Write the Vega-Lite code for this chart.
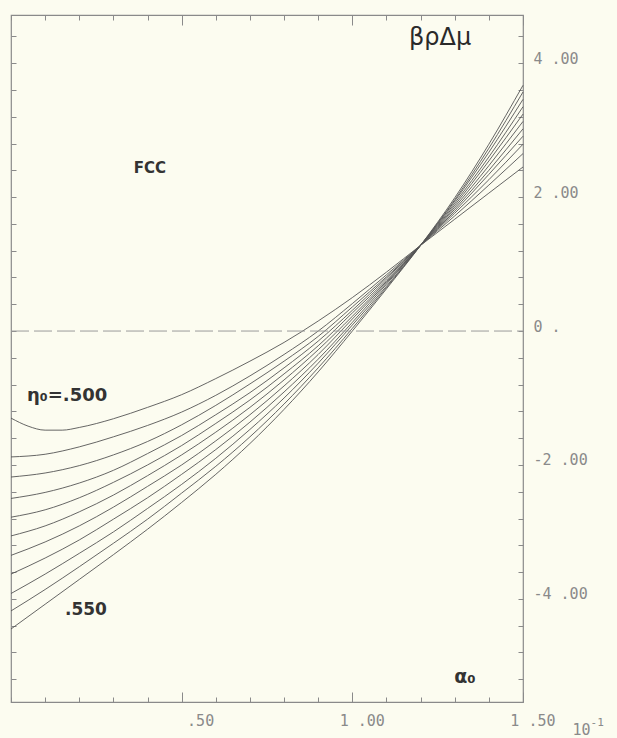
{
  "$schema": "https://vega.github.io/schema/vega-lite/v6.json",
  "width": 512,
  "height": 687,
  "autosize": {"type": "none"},
  "padding": {"left": 11, "top": 15, "right": 94, "bottom": 36},
  "background": "#fcfcf0",
  "config": {
    "view": {"stroke": "#8a8a8a", "strokeWidth": 1.2},
    "axis": {"domain": false, "grid": false, "tickColor": "#8a8a8a", "tickWidth": 1, "labelFont": "DejaVu Sans Mono", "labelFontSize": 15, "labelColor": "#8a8a8a", "labelOverlap": false, "labelFlush": false, "labelBound": false}
  },
  "datasets": {
    "curves": [
      {"eta": ".500", "a": 0, "v": -1.30}, {"eta": ".500", "a": 0.05, "v": -1.42}, {"eta": ".500", "a": 0.1, "v": -1.48}, {"eta": ".500", "a": 0.15, "v": -1.48}, {"eta": ".500", "a": 0.2, "v": -1.44}, {"eta": ".500", "a": 0.3, "v": -1.31}, {"eta": ".500", "a": 0.4, "v": -1.14}, {"eta": ".500", "a": 0.5, "v": -0.95}, {"eta": ".500", "a": 0.6, "v": -0.71}, {"eta": ".500", "a": 0.7, "v": -0.45}, {"eta": ".500", "a": 0.8, "v": -0.17}, {"eta": ".500", "a": 0.9, "v": 0.15}, {"eta": ".500", "a": 1.0, "v": 0.50}, {"eta": ".500", "a": 1.1, "v": 0.88}, {"eta": ".500", "a": 1.2, "v": 1.28}, {"eta": ".500", "a": 1.3, "v": 1.67}, {"eta": ".500", "a": 1.4, "v": 2.06}, {"eta": ".500", "a": 1.5, "v": 2.45},
      {"eta": ".505", "a": 0, "v": -1.88}, {"eta": ".505", "a": 0.1, "v": -1.84}, {"eta": ".505", "a": 0.2, "v": -1.73}, {"eta": ".505", "a": 0.3, "v": -1.58}, {"eta": ".505", "a": 0.4, "v": -1.41}, {"eta": ".505", "a": 0.5, "v": -1.21}, {"eta": ".505", "a": 0.6, "v": -0.96}, {"eta": ".505", "a": 0.7, "v": -0.67}, {"eta": ".505", "a": 0.8, "v": -0.35}, {"eta": ".505", "a": 0.9, "v": 0.00}, {"eta": ".505", "a": 1.0, "v": 0.41}, {"eta": ".505", "a": 1.1, "v": 0.84}, {"eta": ".505", "a": 1.2, "v": 1.28}, {"eta": ".505", "a": 1.3, "v": 1.72}, {"eta": ".505", "a": 1.4, "v": 2.18}, {"eta": ".505", "a": 1.5, "v": 2.65},
      {"eta": ".510", "a": 0, "v": -2.18}, {"eta": ".510", "a": 0.1, "v": -2.12}, {"eta": ".510", "a": 0.2, "v": -2.01}, {"eta": ".510", "a": 0.3, "v": -1.85}, {"eta": ".510", "a": 0.4, "v": -1.65}, {"eta": ".510", "a": 0.5, "v": -1.40}, {"eta": ".510", "a": 0.6, "v": -1.11}, {"eta": ".510", "a": 0.7, "v": -0.79}, {"eta": ".510", "a": 0.8, "v": -0.45}, {"eta": ".510", "a": 0.9, "v": -0.08}, {"eta": ".510", "a": 1.0, "v": 0.36}, {"eta": ".510", "a": 1.1, "v": 0.81}, {"eta": ".510", "a": 1.2, "v": 1.28}, {"eta": ".510", "a": 1.3, "v": 1.76}, {"eta": ".510", "a": 1.4, "v": 2.26}, {"eta": ".510", "a": 1.5, "v": 2.79},
      {"eta": ".515", "a": 0, "v": -2.50}, {"eta": ".515", "a": 0.1, "v": -2.41}, {"eta": ".515", "a": 0.2, "v": -2.27}, {"eta": ".515", "a": 0.3, "v": -2.08}, {"eta": ".515", "a": 0.4, "v": -1.83}, {"eta": ".515", "a": 0.5, "v": -1.56}, {"eta": ".515", "a": 0.6, "v": -1.25}, {"eta": ".515", "a": 0.7, "v": -0.92}, {"eta": ".515", "a": 0.8, "v": -0.55}, {"eta": ".515", "a": 0.9, "v": -0.15}, {"eta": ".515", "a": 1.0, "v": 0.31}, {"eta": ".515", "a": 1.1, "v": 0.79}, {"eta": ".515", "a": 1.2, "v": 1.28}, {"eta": ".515", "a": 1.3, "v": 1.79}, {"eta": ".515", "a": 1.4, "v": 2.34}, {"eta": ".515", "a": 1.5, "v": 2.91},
      {"eta": ".520", "a": 0, "v": -2.78}, {"eta": ".520", "a": 0.1, "v": -2.67}, {"eta": ".520", "a": 0.2, "v": -2.49}, {"eta": ".520", "a": 0.3, "v": -2.26}, {"eta": ".520", "a": 0.4, "v": -2.00}, {"eta": ".520", "a": 0.5, "v": -1.71}, {"eta": ".520", "a": 0.6, "v": -1.38}, {"eta": ".520", "a": 0.7, "v": -1.03}, {"eta": ".520", "a": 0.8, "v": -0.64}, {"eta": ".520", "a": 0.9, "v": -0.22}, {"eta": ".520", "a": 1.0, "v": 0.27}, {"eta": ".520", "a": 1.1, "v": 0.76}, {"eta": ".520", "a": 1.2, "v": 1.28}, {"eta": ".520", "a": 1.3, "v": 1.82}, {"eta": ".520", "a": 1.4, "v": 2.40}, {"eta": ".520", "a": 1.5, "v": 3.02},
      {"eta": ".525", "a": 0, "v": -3.06}, {"eta": ".525", "a": 0.1, "v": -2.91}, {"eta": ".525", "a": 0.2, "v": -2.70}, {"eta": ".525", "a": 0.3, "v": -2.45}, {"eta": ".525", "a": 0.4, "v": -2.16}, {"eta": ".525", "a": 0.5, "v": -1.85}, {"eta": ".525", "a": 0.6, "v": -1.51}, {"eta": ".525", "a": 0.7, "v": -1.14}, {"eta": ".525", "a": 0.8, "v": -0.73}, {"eta": ".525", "a": 0.9, "v": -0.28}, {"eta": ".525", "a": 1.0, "v": 0.22}, {"eta": ".525", "a": 1.1, "v": 0.74}, {"eta": ".525", "a": 1.2, "v": 1.28}, {"eta": ".525", "a": 1.3, "v": 1.85}, {"eta": ".525", "a": 1.4, "v": 2.47}, {"eta": ".525", "a": 1.5, "v": 3.13},
      {"eta": ".530", "a": 0, "v": -3.35}, {"eta": ".530", "a": 0.1, "v": -3.15}, {"eta": ".530", "a": 0.2, "v": -2.91}, {"eta": ".530", "a": 0.3, "v": -2.63}, {"eta": ".530", "a": 0.4, "v": -2.32}, {"eta": ".530", "a": 0.5, "v": -2.00}, {"eta": ".530", "a": 0.6, "v": -1.64}, {"eta": ".530", "a": 0.7, "v": -1.25}, {"eta": ".530", "a": 0.8, "v": -0.82}, {"eta": ".530", "a": 0.9, "v": -0.35}, {"eta": ".530", "a": 1.0, "v": 0.18}, {"eta": ".530", "a": 1.1, "v": 0.72}, {"eta": ".530", "a": 1.2, "v": 1.28}, {"eta": ".530", "a": 1.3, "v": 1.88}, {"eta": ".530", "a": 1.4, "v": 2.54}, {"eta": ".530", "a": 1.5, "v": 3.24},
      {"eta": ".535", "a": 0, "v": -3.63}, {"eta": ".535", "a": 0.1, "v": -3.39}, {"eta": ".535", "a": 0.2, "v": -3.12}, {"eta": ".535", "a": 0.3, "v": -2.81}, {"eta": ".535", "a": 0.4, "v": -2.49}, {"eta": ".535", "a": 0.5, "v": -2.14}, {"eta": ".535", "a": 0.6, "v": -1.77}, {"eta": ".535", "a": 0.7, "v": -1.36}, {"eta": ".535", "a": 0.8, "v": -0.91}, {"eta": ".535", "a": 0.9, "v": -0.42}, {"eta": ".535", "a": 1.0, "v": 0.13}, {"eta": ".535", "a": 1.1, "v": 0.70}, {"eta": ".535", "a": 1.2, "v": 1.28}, {"eta": ".535", "a": 1.3, "v": 1.91}, {"eta": ".535", "a": 1.4, "v": 2.60}, {"eta": ".535", "a": 1.5, "v": 3.35},
      {"eta": ".540", "a": 0, "v": -3.92}, {"eta": ".540", "a": 0.1, "v": -3.63}, {"eta": ".540", "a": 0.2, "v": -3.32}, {"eta": ".540", "a": 0.3, "v": -3.00}, {"eta": ".540", "a": 0.4, "v": -2.65}, {"eta": ".540", "a": 0.5, "v": -2.29}, {"eta": ".540", "a": 0.6, "v": -1.90}, {"eta": ".540", "a": 0.7, "v": -1.47}, {"eta": ".540", "a": 0.8, "v": -1.00}, {"eta": ".540", "a": 0.9, "v": -0.48}, {"eta": ".540", "a": 1.0, "v": 0.09}, {"eta": ".540", "a": 1.1, "v": 0.67}, {"eta": ".540", "a": 1.2, "v": 1.28}, {"eta": ".540", "a": 1.3, "v": 1.94}, {"eta": ".540", "a": 1.4, "v": 2.67}, {"eta": ".540", "a": 1.5, "v": 3.46},
      {"eta": ".545", "a": 0, "v": -4.18}, {"eta": ".545", "a": 0.1, "v": -3.86}, {"eta": ".545", "a": 0.2, "v": -3.52}, {"eta": ".545", "a": 0.3, "v": -3.17}, {"eta": ".545", "a": 0.4, "v": -2.81}, {"eta": ".545", "a": 0.5, "v": -2.42}, {"eta": ".545", "a": 0.6, "v": -2.02}, {"eta": ".545", "a": 0.7, "v": -1.58}, {"eta": ".545", "a": 0.8, "v": -1.09}, {"eta": ".545", "a": 0.9, "v": -0.55}, {"eta": ".545", "a": 1.0, "v": 0.04}, {"eta": ".545", "a": 1.1, "v": 0.65}, {"eta": ".545", "a": 1.2, "v": 1.28}, {"eta": ".545", "a": 1.3, "v": 1.96}, {"eta": ".545", "a": 1.4, "v": 2.73}, {"eta": ".545", "a": 1.5, "v": 3.57},
      {"eta": ".550", "a": 0, "v": -4.45}, {"eta": ".550", "a": 0.1, "v": -4.08}, {"eta": ".550", "a": 0.2, "v": -3.71}, {"eta": ".550", "a": 0.3, "v": -3.34}, {"eta": ".550", "a": 0.4, "v": -2.96}, {"eta": ".550", "a": 0.5, "v": -2.56}, {"eta": ".550", "a": 0.6, "v": -2.14}, {"eta": ".550", "a": 0.7, "v": -1.68}, {"eta": ".550", "a": 0.8, "v": -1.17}, {"eta": ".550", "a": 0.9, "v": -0.61}, {"eta": ".550", "a": 1.0, "v": 0.00}, {"eta": ".550", "a": 1.1, "v": 0.63}, {"eta": ".550", "a": 1.2, "v": 1.28}, {"eta": ".550", "a": 1.3, "v": 1.99}, {"eta": ".550", "a": 1.4, "v": 2.79}, {"eta": ".550", "a": 1.5, "v": 3.67}
    ]
  },
  "resolve": {"axis": {"x": "independent", "y": "independent"}},
  "layer": [
    {
      "data": {"name": "curves"},
      "mark": {"type": "line", "interpolate": "monotone", "stroke": "#555555", "strokeWidth": 0.9},
      "encoding": {
        "x": {
          "field": "a", "type": "quantitative",
          "scale": {"domain": [0, 1.5], "nice": false, "zero": false},
          "axis": {
            "orient": "bottom",
            "values": [0, 0.1, 0.2, 0.3, 0.4, 0.5, 0.6, 0.7, 0.8, 0.9, 1, 1.1, 1.2, 1.3, 1.4, 1.5],
            "tickSize": {"condition": {"test": "datum.value == 0.5 || datum.value == 1 || datum.value == 1.5", "value": -10}, "value": -5},
            "labelExpr": "datum.value == 0.5 ? '.50' : datum.value == 1 ? '1 .00' : datum.value == 1.5 ? '1 .50' : ''",
            "labelAlign": "right",
            "labelOffset": 32,
            "labelBaseline": "alphabetic",
            "labelPadding": 33,
            "title": null
          }
        },
        "y": {
          "field": "v", "type": "quantitative",
          "scale": {"domain": [-5.54, 4.72], "nice": false, "zero": false},
          "axis": {
            "orient": "right",
            "values": [-5.2, -4.8, -4.4, -4, -3.6, -3.2, -2.8, -2.4, -2, -1.6, -1.2, -0.8, -0.4, 0, 0.4, 0.8, 1.2, 1.6, 2, 2.4, 2.8, 3.2, 3.6, 4, 4.4],
            "tickSize": -5,
            "labelExpr": "datum.value == 4 ? '\u00a04 .00' : datum.value == 2 ? '\u00a02 .00' : datum.value == 0 ? '0 .' : datum.value == -2 ? '-2 .00' : datum.value == -4 ? '-4 .00' : ''",
            "labelAlign": "left",
            "labelBaseline": "alphabetic",
            "labelPadding": 15,
            "title": null
          }
        },
        "detail": {"field": "eta", "type": "nominal"}
      }
    },
    {
      "data": {"values": [{}]},
      "mark": {"type": "rule", "stroke": "#9a9a9a", "strokeWidth": 1, "strokeDash": [18, 5]},
      "encoding": {
        "x": {
          "datum": 0, "type": "quantitative",
          "axis": {
            "orient": "top",
            "values": [0, 0.1, 0.2, 0.3, 0.4, 0.5, 0.6, 0.7, 0.8, 0.9, 1, 1.1, 1.2, 1.3, 1.4, 1.5],
            "tickSize": {"condition": {"test": "datum.value == 0.5 || datum.value == 1 || datum.value == 1.5", "value": -10}, "value": -5},
            "labels": false,
            "title": null
          }
        },
        "x2": {"datum": 1.5},
        "y": {
          "datum": 0, "type": "quantitative",
          "axis": {
            "orient": "left",
            "values": [-5.2, -4.8, -4.4, -4, -3.6, -3.2, -2.8, -2.4, -2, -1.6, -1.2, -0.8, -0.4, 0, 0.4, 0.8, 1.2, 1.6, 2, 2.4, 2.8, 3.2, 3.6, 4, 4.4],
            "tickSize": -5,
            "labels": false,
            "title": null
          }
        }
      }
    },
    {
      "data": {"values": [{}]},
      "mark": {"type": "text", "text": "βρΔμ", "font": "DejaVu Sans", "fontSize": 24, "color": "#2a2a2a", "align": "center", "baseline": "middle"},
      "encoding": {"x": {"datum": 1.257, "type": "quantitative", "axis": null}, "y": {"datum": 4.37, "type": "quantitative", "axis": null}}
    },
    {
      "data": {"values": [{}]},
      "mark": {"type": "text", "text": "FCC", "font": "DejaVu Sans", "fontSize": 15, "fontWeight": "bold", "color": "#333333", "align": "center", "baseline": "middle"},
      "encoding": {"x": {"datum": 0.407, "type": "quantitative", "axis": null}, "y": {"datum": 2.43, "type": "quantitative", "axis": null}}
    },
    {
      "data": {"values": [{}]},
      "mark": {"type": "text", "text": "η₀=.500", "font": "DejaVu Sans", "fontSize": 18, "fontWeight": "bold", "color": "#333333", "align": "left", "baseline": "middle"},
      "encoding": {"x": {"datum": 0.047, "type": "quantitative", "axis": null}, "y": {"datum": -0.97, "type": "quantitative", "axis": null}}
    },
    {
      "data": {"values": [{}]},
      "mark": {"type": "text", "text": ".550", "font": "DejaVu Sans", "fontSize": 17, "fontWeight": "bold", "color": "#333333", "align": "left", "baseline": "middle"},
      "encoding": {"x": {"datum": 0.158, "type": "quantitative", "axis": null}, "y": {"datum": -4.16, "type": "quantitative", "axis": null}}
    },
    {
      "data": {"values": [{}]},
      "mark": {"type": "text", "text": "α₀", "font": "DejaVu Sans", "fontSize": 19, "fontWeight": "bold", "color": "#333333", "align": "center", "baseline": "middle"},
      "encoding": {"x": {"datum": 1.33, "type": "quantitative", "axis": null}, "y": {"datum": -5.16, "type": "quantitative", "axis": null}}
    },
    {
      "data": {"values": [{}]},
      "mark": {"type": "text", "text": "10", "font": "DejaVu Sans Mono", "fontSize": 15, "color": "#8a8a8a", "align": "left", "baseline": "alphabetic"},
      "encoding": {"x": {"datum": 1.645, "type": "quantitative", "axis": null}, "y": {"datum": -6.03, "type": "quantitative", "axis": null}}
    },
    {
      "data": {"values": [{}]},
      "mark": {"type": "text", "text": "-1", "font": "DejaVu Sans Mono", "fontSize": 11, "color": "#8a8a8a", "align": "left", "baseline": "alphabetic"},
      "encoding": {"x": {"datum": 1.698, "type": "quantitative", "axis": null}, "y": {"datum": -5.90, "type": "quantitative", "axis": null}}
    }
  ]
}
